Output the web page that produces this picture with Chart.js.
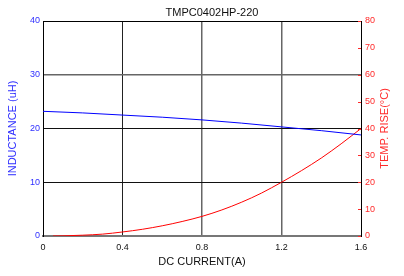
<!DOCTYPE html>
<html>
<head>
<meta charset="utf-8">
<script src="https://cdn.jsdelivr.net/npm/chart.js@4.4.0/dist/chart.umd.min.js"></script>
<style>
  html, body { margin: 0; padding: 0; background: #fff; }
  #wrap { width: 404px; height: 276px; }
</style>
</head>
<body>
<div id="wrap"><canvas id="myChart" width="404" height="276"></canvas></div>
<script>
// values
const chartTitle = 'TMPC0402HP-220';
const rightTitle = 'TEMP. RISE(°C)';
const currentL = [0, 0.2, 0.4, 0.6, 0.8, 1.0, 1.2, 1.4, 1.6];
const inductance = [23.2, 22.9, 22.5, 22.1, 21.6, 21.0, 20.3, 19.6, 18.8];
const currentT = [0.05, 0.1, 0.2, 0.3, 0.4, 0.5, 0.6, 0.7, 0.8, 0.9, 1.0, 1.1, 1.2, 1.3, 1.4, 1.5, 1.6];
const tempRise = [0, 0.05, 0.3, 0.7, 1.5, 2.5, 3.8, 5.4, 7.3, 9.7, 12.6, 16, 20, 24.3, 29, 34.3, 40];
const xTicks = [0, 0.4, 0.8, 1.2, 1.6];

const FONT = "'Liberation Sans', Arial, sans-serif";
const BLUE = '#2f2fff';
const RED = '#ff2a2a';

// frame top edge, red minor ticks on the right axis, the titles
const extras = {
    id: 'extras',
    afterDraw(chart) {
        const ctx = chart.ctx;
        const a = chart.chartArea;
        ctx.save();
        ctx.strokeStyle = '#000';
        ctx.lineWidth = 1;
        ctx.beginPath();
        ctx.moveTo(a.left, a.top + 0.5);
        ctx.lineTo(a.right, a.top + 0.5);
        ctx.stroke();

        const y2 = chart.scales.y2;
        ctx.strokeStyle = RED;
        y2.ticks.forEach(t => {
            const py = Math.round(y2.getPixelForValue(t.value)) + 0.5;
            ctx.beginPath();
            ctx.moveTo(a.right - 3, py);
            ctx.lineTo(a.right, py);
            ctx.stroke();
        });

        ctx.font = '11px ' + FONT;
        ctx.textAlign = 'center';
        ctx.textBaseline = 'middle';
        ctx.fillStyle = '#111';
        ctx.fillText(chartTitle, (a.left + a.right) / 2 + 10, 13);

        // right axis title reads bottom to top
        ctx.fillStyle = RED;
        ctx.translate(y2.right - 19, (a.top + a.bottom) / 2);
        ctx.rotate(-Math.PI / 2);
        ctx.fillText(rightTitle, 0, 0);
        ctx.restore();
    }
};

new Chart(document.getElementById('myChart').getContext('2d'), {
    type: 'line',
    data: {
        datasets: [
            {
                label: 'Inductance',
                data: currentL.map((x, i) => ({ x: x, y: inductance[i] })),
                borderColor: '#0000ff',
                borderWidth: 1,
                pointRadius: 0,
                cubicInterpolationMode: 'monotone',
                yAxisID: 'y'
            },
            {
                label: 'Temp rise',
                data: currentT.map((x, i) => ({ x: x, y: tempRise[i] })),
                borderColor: '#ff0000',
                borderWidth: 1,
                pointRadius: 0,
                cubicInterpolationMode: 'monotone',
                yAxisID: 'y2'
            }
        ]
    },
    plugins: [extras],
    options: {
        responsive: false,
        animation: false,
        layout: { padding: { top: 21 } },
        plugins: {
            legend: { display: false },
            tooltip: { enabled: false },
            title: { display: false }
        },
        scales: {
            x: {
                type: 'linear',
                min: 0,
                max: 1.6,
                afterBuildTicks: s => { s.ticks = xTicks.map(v => ({ value: v })); },
                afterFit: s => { s.height = 40; },
                ticks: {
                    color: '#111',
                    font: { size: 9, family: FONT },
                    padding: 6,
                    maxRotation: 0,
                    callback: v => String(+v.toFixed(1))
                },
                grid: {
                    drawTicks: false,
                    color: c => (c.tick.value === 0 || c.tick.value === 1.6) ? 'rgba(0,0,0,0)' :
                        (c.tick.value === 0.4 ? '#222' : '#666'),
                    lineWidth: c => c.tick.value === 0.4 ? 1 : 1.5
                },
                border: { color: '#777', width: 2 },
                title: {
                    display: true,
                    text: 'DC CURRENT(A)',
                    color: '#111',
                    font: { size: 11, family: FONT },
                    padding: { top: 0, bottom: 7 }
                }
            },
            y: {
                position: 'left',
                min: 0,
                max: 40,
                afterFit: s => { s.width = 43; },
                ticks: {
                    stepSize: 10,
                    color: BLUE,
                    font: { size: 9, family: FONT },
                    padding: 3
                },
                grid: {
                    drawTicks: false,
                    color: c => (c.tick.value === 0 || c.tick.value === 40) ? 'rgba(0,0,0,0)' :
                        (c.tick.value === 30 ? '#666' : '#111'),
                    lineWidth: c => c.tick.value === 30 ? 1.5 : 1
                },
                border: { color: '#000', width: 1 },
                title: {
                    display: true,
                    text: 'INDUCTANCE (uH)',
                    color: BLUE,
                    font: { size: 11, family: FONT },
                    padding: { top: 6, bottom: 0 }
                }
            },
            y2: {
                position: 'right',
                min: 0,
                max: 80,
                afterFit: s => { s.width = 43; },
                ticks: {
                    stepSize: 10,
                    color: RED,
                    font: { size: 9, family: FONT },
                    padding: 4
                },
                grid: { drawOnChartArea: false, drawTicks: false },
                border: { color: '#000', width: 1 },
                title: { display: false }
            }
        }
    }
});
</script>
</body>
</html>
